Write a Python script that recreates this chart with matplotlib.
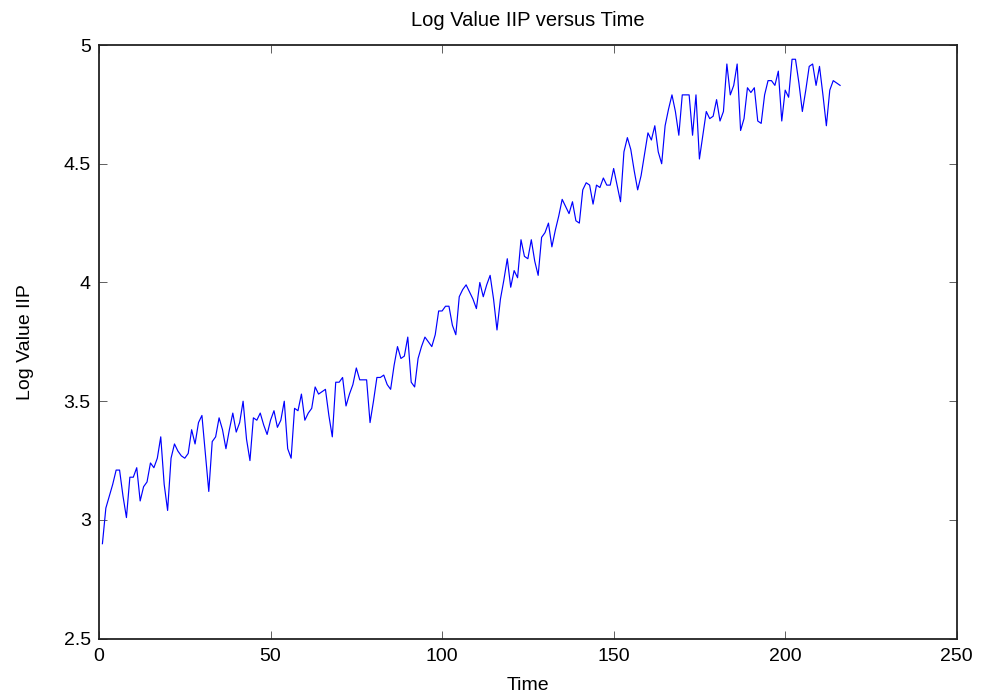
import numpy as np
import matplotlib
matplotlib.use("Agg")
import matplotlib.pyplot as plt

# monthly log index of industrial production
log_iip = [
    2.90, 3.05, 3.10, 3.15, 3.21, 3.21, 3.10, 3.01, 3.18, 3.18,
    3.22, 3.08, 3.14, 3.16, 3.24, 3.22, 3.26, 3.35, 3.15, 3.04,
    3.26, 3.32, 3.29, 3.27, 3.26, 3.28, 3.38, 3.32, 3.41, 3.44,
    3.28, 3.12, 3.33, 3.35, 3.43, 3.38, 3.30, 3.38, 3.45, 3.37,
    3.41, 3.50, 3.34, 3.25, 3.43, 3.42, 3.45, 3.40, 3.36, 3.42,
    3.46, 3.39, 3.42, 3.50, 3.30, 3.26, 3.47, 3.46, 3.53, 3.42,
    3.45, 3.47, 3.56, 3.53, 3.54, 3.55, 3.44, 3.35, 3.58, 3.58,
    3.60, 3.48, 3.53, 3.57, 3.64, 3.59, 3.59, 3.59, 3.41, 3.50,
    3.60, 3.60, 3.61, 3.57, 3.55, 3.65, 3.73, 3.68, 3.69, 3.77,
    3.58, 3.56, 3.68, 3.73, 3.77, 3.75, 3.73, 3.78, 3.88, 3.88,
    3.90, 3.90, 3.82, 3.78, 3.94, 3.97, 3.99, 3.96, 3.93, 3.89,
    4.00, 3.94, 3.99, 4.03, 3.93, 3.80, 3.93, 4.01, 4.10, 3.98,
    4.05, 4.02, 4.18, 4.11, 4.10, 4.18, 4.09, 4.03, 4.19, 4.21,
    4.25, 4.15, 4.22, 4.28, 4.35, 4.32, 4.29, 4.34, 4.26, 4.25,
    4.39, 4.42, 4.41, 4.33, 4.41, 4.40, 4.44, 4.41, 4.41, 4.48,
    4.41, 4.34, 4.55, 4.61, 4.56, 4.47, 4.39, 4.45, 4.54, 4.63,
    4.60, 4.66, 4.55, 4.50, 4.66, 4.73, 4.79, 4.72, 4.62, 4.79,
    4.79, 4.79, 4.62, 4.79, 4.52, 4.62, 4.72, 4.69, 4.70, 4.77,
    4.68, 4.72, 4.92, 4.79, 4.83, 4.92, 4.64, 4.69, 4.82, 4.80,
    4.82, 4.68, 4.67, 4.79, 4.85, 4.85, 4.83, 4.89, 4.68, 4.81,
    4.78, 4.94, 4.94, 4.84, 4.72, 4.81, 4.91, 4.92, 4.83, 4.91,
    4.79, 4.66, 4.81, 4.85, 4.84, 4.83,
]
time = np.arange(1, len(log_iip) + 1)

x_ticks = [0, 50, 100, 150, 200, 250]
y_ticks = [2.5, 3, 3.5, 4, 4.5, 5]
y_tick_labels = ["2.5", "3", "3.5", "4", "4.5", "5"]

plt.rcParams["font.family"] = ["Liberation Sans", "DejaVu Sans"]
plt.rcParams["font.size"] = 14

fig = plt.figure(figsize=(9.84, 7.0), dpi=100)
ax = fig.add_axes([0.1006, 0.0876, 0.8717, 0.8481])

ax.plot(time, log_iip, color=(0, 0, 1), linewidth=0.85)

ax.set_xlim(0, 250)
ax.set_ylim(2.5, 5)
ax.set_xticks(x_ticks)
ax.set_yticks(y_ticks)
ax.set_yticklabels(y_tick_labels)
ax.tick_params(direction="in", top=True, right=True, length=6, width=0.6,
               color="#444444", labelsize=14)
ax.tick_params(axis="x", pad=7)
ax.tick_params(axis="y", pad=6)
for spine in ax.spines.values():
    spine.set_linewidth(1.3)
    spine.set_color("#222222")

ax.set_title("Log Value IIP versus Time", fontsize=14.5, pad=14)
ax.set_xlabel("Time", fontsize=14, labelpad=8)
ax.set_ylabel("Log Value IIP", fontsize=14, labelpad=21)

fig.savefig("out.png", dpi=100)
